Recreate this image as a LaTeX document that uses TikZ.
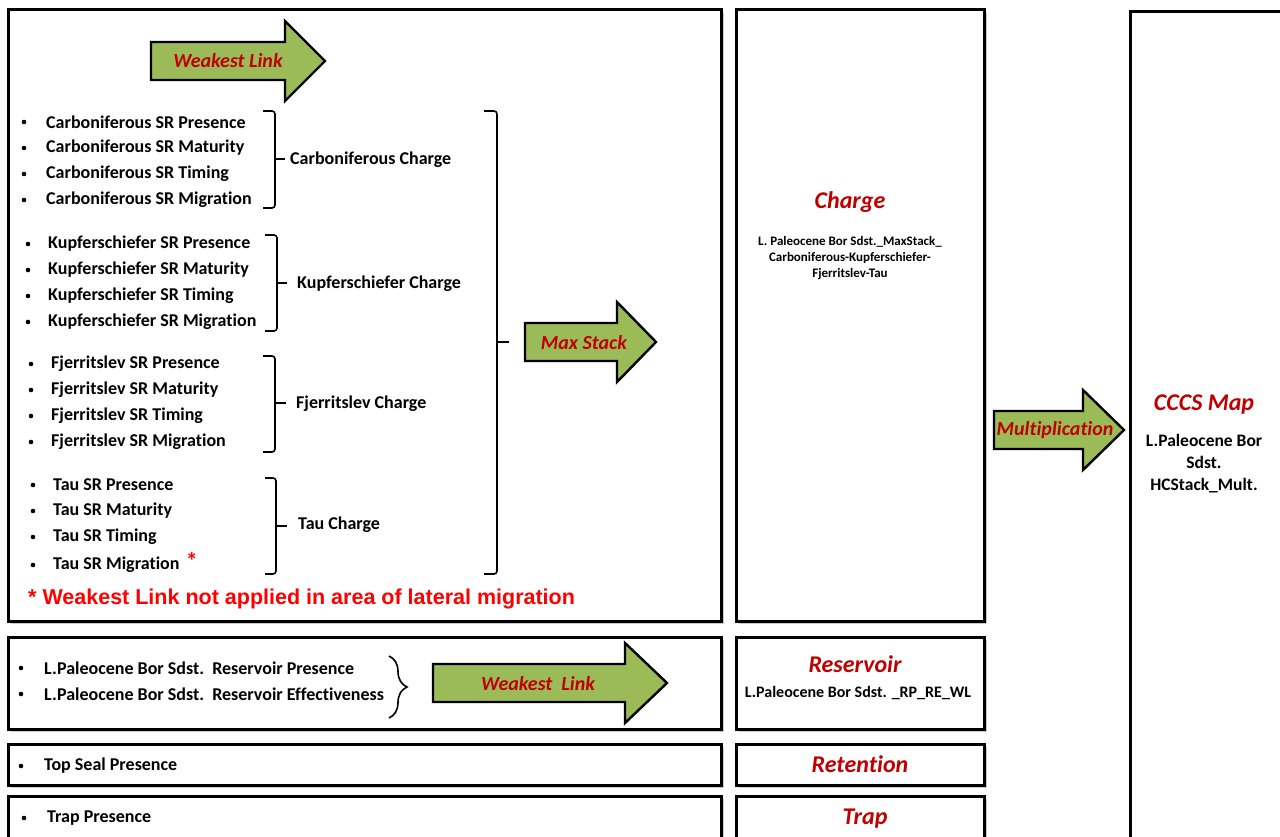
\documentclass[tikz,border=0pt]{standalone}
\usepackage{fontspec}
\setmainfont{Carlito}[Ligatures=CommonOff]
\newfontfamily\arialfont{Liberation Sans}
\usetikzlibrary{shadows,decorations.pathreplacing}

\definecolor{arrowgreen}{RGB}{155,187,89}
\definecolor{titlered}{RGB}{192,0,0}
\definecolor{notered}{RGB}{255,0,0}

\tikzset{
  panel/.style={draw=black, line width=3pt, fill=white,
    drop shadow={shadow xshift=3pt, shadow yshift=-3pt, fill=black!35, opacity=0.6}},
  fatarrow/.style={draw=black, line width=2.4pt, fill=arrowgreen, line join=miter},
  arrowtext/.style={text=titlered, font=\bfseries\itshape\fontsize{20}{22}\selectfont},
  item/.style={anchor=west, inner sep=0pt, font=\bfseries\fontsize{18}{20}\selectfont},
  dot/.style={circle, fill=black, inner sep=0pt, minimum size=4.6pt},
  title/.style={text=titlered, font=\bfseries\itshape\fontsize{24}{26}\selectfont},
  bracket/.style={draw=black, line width=1.6pt, rounded corners=3pt},
}

% #1 start x, #2 head x, #3 tip x, #4 centre y
\def\fatarrow#1#2#3#4{%
  \draw[fatarrow] (#1,#4-19) -- (#2,#4-19) -- (#2,#4-40) -- (#3,#4)
    -- (#2,#4+40) -- (#2,#4+19) -- (#1,#4+19) -- cycle;}
% #1 left x, #2 right x, #3 top y, #4 bottom y, #5 tick y, #6 tick end x
\def\sqbrace#1#2#3#4#5#6{%
  \draw[bracket] (#1,#3) -- (#2,#3) -- (#2,#4) -- (#1,#4);
  \draw[line width=1.6pt] (#2,#5) -- (#6,#5);}

\begin{document}
\begin{tikzpicture}[x=1pt,y=-1pt]
  \useasboundingbox (0,0) rectangle (1280,837);
  \fill[white] (0,0) rectangle (1280,837);
  \clip (0,0) rectangle (1280,837);

  % panels
  \draw[panel] (8,10) rectangle (721,621);
  \draw[panel] (736,10) rectangle (984,621);
  \draw[panel] (1130,12) rectangle (1300,870);
  \draw[panel] (8,637) rectangle (721,729);
  \draw[panel] (736,637) rectangle (984,729);
  \draw[panel] (8,744) rectangle (721,785);
  \draw[panel] (736,744) rectangle (984,785);
  \draw[panel] (8,796) rectangle (721,870);
  \draw[panel] (736,796) rectangle (984,870);

  % source rock items
  \foreach \t [count=\i] in {Presence,Maturity,Timing,Migration} {
    \node[dot] (cb\i) at (24,{96+26*\i}) {};
    \node[item] (carb\i) at (46,{96+26*\i}) {Carboniferous SR \t};
    \node[dot] (kb\i) at (28,{218+26*\i}) {};
    \node[item] (kupf\i) at (48,{218+26*\i}) {Kupferschiefer SR \t};
    \node[dot] (fb\i) at (31,{338+26*\i}) {};
    \node[item] (fjer\i) at (51,{338+26*\i}) {Fjerritslev SR \t};
  }
  \foreach \t/\y [count=\i] in {Presence/485,Maturity/511,Timing/537,Migration/565} {
    \node[dot] (tb\i) at (33,\y) {};
    \node[item] (tau\i) at (53,\y) {Tau SR \t};
  }
  \node[anchor=west, inner sep=0pt, text=notered, font=\bfseries\fontsize{24}{24}\selectfont]
    (taustar) at ([xshift=6pt,yshift=4pt]tau4.east) {*};

  % braces and charge labels
  \sqbrace{263}{275}{111}{208}{159}{285}
  \sqbrace{265}{277}{235}{331}{283}{287}
  \sqbrace{263}{275}{356}{452}{403}{286}
  \sqbrace{265}{276}{478}{574}{526}{287}
  \sqbrace{484}{497}{111}{574}{342}{509}
  \node[item] (carbcharge) at (290,160) {Carboniferous Charge};
  \node[item] (kupfcharge) at (297,284) {Kupferschiefer Charge};
  \node[item] (fjercharge) at (296,404) {Fjerritslev Charge};
  \node[item] (taucharge) at (298,525) {Tau Charge};

  \node[anchor=west, inner sep=0pt, text=notered, font=\arialfont\bfseries\fontsize{21.5}{24}\selectfont]
    (note) at (28,599) {* Weakest Link not applied in area of lateral migration};

  % arrows
  \fatarrow{151}{285}{325}{61}
  \node[arrowtext] (wl1) at (228,61) {Weakest Link};
  \fatarrow{525}{617}{656}{342}
  \node[arrowtext] (maxstack) at (584,343) {Max Stack};
  \fatarrow{994}{1083}{1124}{430}
  \node[arrowtext] (mult) at (1055,430) {Multiplication};
  \fatarrow{433}{625}{667}{683}
  \node[arrowtext] (wl2) at (538,684) {Weakest\ \ Link};

  % charge column
  \node[title] (charge) at (850,202) {Charge};
  \node[align=center, font=\bfseries\fontsize{13}{16}\selectfont] (chargetxt) at (850,258)
    {L. Paleocene Bor Sdst.\_MaxStack\_\\Carboniferous-Kupferschiefer-\\Fjerritslev-Tau};
  \node[title] (cccs) at (1204,405) {CCCS Map};
  \node[align=center, font=\bfseries\fontsize{17.5}{22}\selectfont] (cccstxt) at (1204,464)
    {L.Paleocene Bor\\Sdst.\\HCStack\_Mult.};

  % reservoir
  \node[dot] (rb1) at (21,668) {};
  \node[item] (res1) at (44,668) {L.Paleocene Bor Sdst.\ \ Reservoir Presence};
  \node[dot] (rb2) at (21,694) {};
  \node[item] (res2) at (44,694) {L.Paleocene Bor Sdst.\ \ Reservoir Effectiveness};
  \draw[line width=1.6pt, decorate, decoration={brace, amplitude=18pt}] (389,656) -- (389,718);
  \node[title] (reservoir) at (855,664) {Reservoir};
  \node[font=\bfseries\fontsize{16}{18}\selectfont] (restxt) at (858,693) {L.Paleocene Bor Sdst. \_RP\_RE\_WL};

  % retention and trap
  \node[dot] (sb) at (21,766) {};
  \node[item] (seal) at (44,766) {Top Seal Presence};
  \node[title] (retention) at (860,764) {Retention};
  \node[dot] (trb) at (24,818) {};
  \node[item] (trappres) at (47,818) {Trap Presence};
  \node[title] (trap) at (865,819) {Trap};
\end{tikzpicture}
\end{document}
